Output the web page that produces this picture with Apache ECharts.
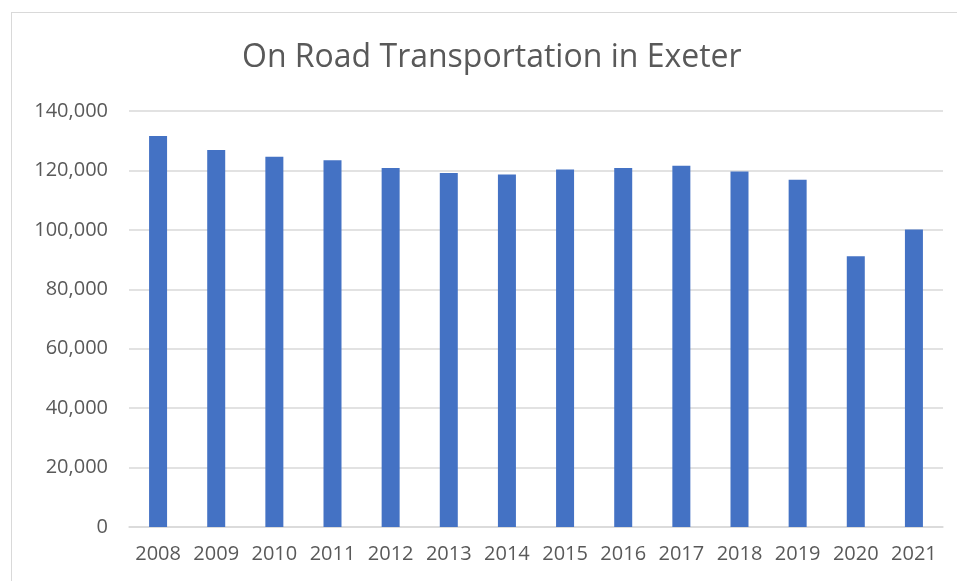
<!DOCTYPE html>
<html>
<head>
<meta charset="utf-8">
<script src="https://cdn.jsdelivr.net/npm/echarts@6/dist/echarts.min.js"></script>
<style>
  html, body { margin: 0; padding: 0; background: #fff; }
  #frame { position: absolute; left: 11px; top: 12px; width: 960px; height: 580px; border: 1.5px solid #d9d9d9; box-sizing: border-box; }
  #main { position: absolute; left: 0; top: 0; width: 957px; height: 581px; }
</style>
</head>
<body>
<div id="frame"></div>
<div id="main"></div>
<script>
var years = ['2008', '2009', '2010', '2011', '2012', '2013', '2014', '2015', '2016', '2017', '2018', '2019', '2020', '2021'];
var emissions = [131600, 126900, 124600, 123400, 120800, 119100, 118600, 120300, 120800, 121600, 119600, 116900, 91100, 100100];

var myChart = echarts.init(document.getElementById('main'));
var textFont = 'Open Sans';

var option = {
    title: {
        text: 'On Road Transportation in Exeter',
        left: 237,
        top: 37,
        textStyle: { fontFamily: textFont, fontSize: 32, fontWeight: 'normal', color: '#595959' }
    },
    grid: { left: 129, right: 14, top: 111, bottom: 54 },
    xAxis: {
        type: 'category',
        data: years,
        axisLine: { lineStyle: { color: '#d9d9d9', width: 1.5 } },
        axisTick: { show: false },
        axisLabel: { interval: 0, fontFamily: textFont, fontSize: 20, color: '#595959', margin: 17 }
    },
    yAxis: {
        type: 'value',
        min: 0,
        max: 140000,
        interval: 20000,
        axisLine: { show: false },
        axisTick: { show: false },
        splitLine: { lineStyle: { color: '#d9d9d9', width: 1.5 } },
        axisLabel: {
            fontFamily: textFont, fontSize: 20, color: '#595959', margin: 21,
            formatter: function (v) { return v.toLocaleString('en-US'); }
        }
    },
    series: [{
        type: 'bar',
        data: emissions,
        barWidth: 18,
        itemStyle: { color: '#4472c4' }
    }]
};

myChart.setOption(option);
</script>
</body>
</html>
